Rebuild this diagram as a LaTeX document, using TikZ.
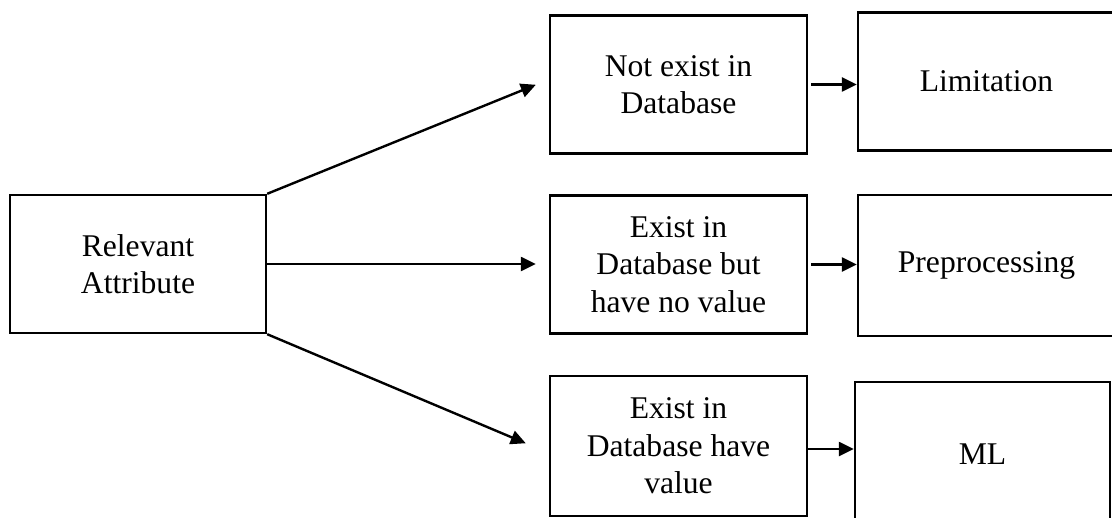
\documentclass[tikz,border=0pt]{standalone}
\usepackage{fontspec}
\setmainfont{Liberation Serif}
\usetikzlibrary{arrows.meta,positioning}

\begin{document}
\begin{tikzpicture}[
    x=0.5pt, y=-0.5pt,
    font=\fontsize{15.8}{18.7}\selectfont,
    attrbox/.style={draw, line width=1.2pt, minimum width=128pt, minimum height=69pt, align=center, inner sep=2pt},
    arrow/.style={-{Triangle[length=7.5pt, width=7pt]}, line width=1.2pt}
]
\path[use as bounding box, clip] (0,0) rectangle (1112,518);

% source attribute
\node[attrbox] (rel) at (138,264) {Relevant\\Attribute};

% database cases
\node[attrbox, minimum width=128.5pt] (notexist) at (678.5,84.5) {Not exist in\\Database};
\node[attrbox, minimum width=128.5pt] (novalue) at (678.5,264.5) {Exist in\\Database but\\have no value};
\node[attrbox, minimum width=128.5pt, minimum height=70pt] (hasvalue) at (678.5,446) {Exist in\\Database have\\value};

% outcomes
\node[attrbox, minimum width=128.5pt] (limit) at (986.5,81.5) {Limitation};
\node[attrbox, minimum width=128.5pt, minimum height=70.5pt] (preproc) at (986.5,265.5) {Preprocessing};
\node[attrbox, minimum width=127.5pt, minimum height=72pt] (ml) at (982.5,454) {ML};

\draw[arrow, shorten >=7pt] (rel.north east) -- ([yshift=2.5pt]notexist.west);
\draw[arrow, shorten >=6.5pt] (rel.east) -- (rel.east -| novalue.west);
\draw[arrow, shorten >=12.5pt] (rel.south east) -- ([yshift=-3.5pt]hasvalue.west);

\draw[arrow, shorten <=1.5pt] (notexist.east) -- (notexist.east -| limit.west);
\draw[arrow, shorten <=1.5pt] (novalue.east) -- (novalue.east -| preproc.west);
\draw[arrow] ([yshift=-1.5pt]hasvalue.east) -- ([yshift=-1.5pt]hasvalue.east -| ml.west);

\end{tikzpicture}
\end{document}
